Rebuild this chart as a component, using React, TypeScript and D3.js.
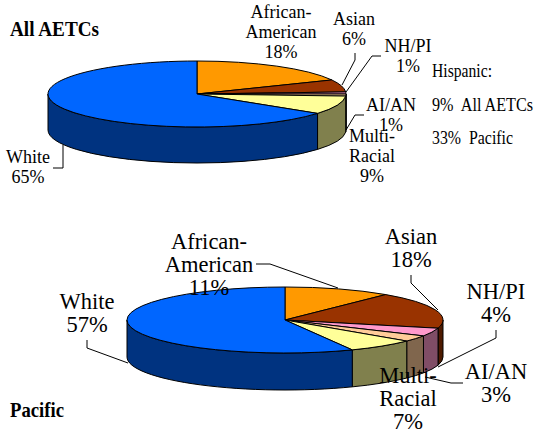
import React from "react";
import * as d3 from "d3";

// Racial/ethnic share of clients, in clockwise order from 12 o'clock.
const categories = ["African-American", "Asian", "NH/PI", "AI/AN", "Multi-Racial", "White"];
const allAetcValues = [18, 6, 1, 1, 9, 65];
const pacificValues = [11, 18, 4, 3, 7, 57];
const topColors = ["#FF9900", "#993300", "#FF99CC", "#FFCC99", "#FFFF99", "#0066FF"];
const sideColors = ["#804D00", "#4D1A00", "#804D66", "#80664D", "#80804D", "#003380"];

type Label = { lines: string[]; x: number; y: number };
type Pie3D = { cx: number; cy: number; rx: number; ry: number; depth: number; values: number[] };

const FONT = "'Liberation Serif', 'Times New Roman', serif";

const wedges = d3.pie<number>().sort(null).value((d) => d);
const unitArc = d3.arc<d3.PieArcDatum<number>>().innerRadius(0).outerRadius(100);

function Pie({ cx, cy, rx, ry, depth, values }: Pie3D) {
  const slices = wedges(values);
  const px = (a: number) => cx + rx * Math.sin(a);
  const py = (a: number) => cy - ry * Math.cos(a);
  return (
    <g stroke="#000" strokeWidth={1} strokeLinejoin="round">
      {slices.map((s, i) => {
        // Only the front half of the rim faces the viewer.
        const a0 = Math.max(s.startAngle, Math.PI / 2);
        const a1 = Math.min(s.endAngle, (3 * Math.PI) / 2);
        if (a1 <= a0) return null;
        const d = [
          `M${px(a0)},${py(a0)}`,
          `A${rx},${ry} 0 0 1 ${px(a1)},${py(a1)}`,
          `L${px(a1)},${py(a1) + depth}`,
          `A${rx},${ry} 0 0 0 ${px(a0)},${py(a0) + depth}`,
          "Z",
        ].join(" ");
        return <path key={categories[i]} d={d} fill={sideColors[i]} />;
      })}
      <g transform={`translate(${cx},${cy}) scale(${rx / 100},${ry / 100})`}>
        {slices.map((s, i) => (
          <path
            key={categories[i]}
            d={unitArc(s) ?? ""}
            fill={topColors[i]}
            vectorEffect="non-scaling-stroke"
          />
        ))}
      </g>
    </g>
  );
}

function Labels({ items, size, leading }: { items: Label[]; size: number; leading: number }) {
  return (
    <g fontFamily={FONT} fontSize={size} fill="#000" textAnchor="middle">
      {items.map((l) => (
        <text key={l.lines.join()} y={l.y}>
          {l.lines.map((t, i) => (
            <tspan key={i} x={l.x} dy={i === 0 ? 0 : leading}>
              {t}
            </tspan>
          ))}
        </text>
      ))}
    </g>
  );
}

const polyline = d3.line();

function Leaders({ paths }: { paths: [number, number][][] }) {
  return (
    <g fill="none" stroke="#000" strokeWidth={1}>
      {paths.map((p, i) => (
        <path key={i} d={polyline(p) ?? ""} />
      ))}
    </g>
  );
}

const allLabels: Label[] = [
  { lines: ["African-", "American", "18%"], x: 281, y: 18 },
  { lines: ["Asian", "6%"], x: 354, y: 25 },
  { lines: ["NH/PI", "1%"], x: 408, y: 52 },
  { lines: ["AI/AN", "1%"], x: 391, y: 111 },
  { lines: ["Multi-", "Racial", "9%"], x: 372, y: 142 },
  { lines: ["White", "65%"], x: 28, y: 163 },
];

const pacificLabels: Label[] = [
  { lines: ["African-", "American", "11%"], x: 209, y: 249 },
  { lines: ["White", "57%"], x: 87, y: 309 },
  { lines: ["Asian", "18%"], x: 411, y: 244 },
  { lines: ["NH/PI", "4%"], x: 496, y: 299 },
  { lines: ["AI/AN", "3%"], x: 496, y: 379 },
  { lines: ["Multi-", "Racial", "7%"], x: 408, y: 383 },
];

const allLeaders: [number, number][][] = [
  [[53, 168], [63, 168], [63, 145]],
  [[355, 53], [355, 60], [342, 85]],
  [[381, 56], [372, 56], [346, 92]],
  [[364, 115], [355, 115], [346, 130]],
];

const pacificLeaders: [number, number][][] = [
  [[256, 264], [270, 264], [338, 288]],
  [[87, 340], [87, 348], [128, 363]],
  [[411, 275], [411, 283], [438, 310]],
  [[496, 330], [496, 338], [438, 367]],
  [[463, 383], [451, 383], [425, 377]],
];

export default function App() {
  return (
    <svg
      width={536}
      height={432}
      viewBox="0 0 536 432"
      style={{ position: "absolute", left: 0, top: 0, background: "#fff" }}
    >
      <Pie cx={197} cy={94} rx={149} ry={33} depth={36} values={allAetcValues} />
      <Pie cx={285} cy={320} rx={158} ry={33} depth={37} values={pacificValues} />

      <Leaders paths={allLeaders} />
      <Leaders paths={pacificLeaders} />

      <Labels items={allLabels} size={18} leading={20.2} />
      <Labels items={pacificLabels} size={22.5} leading={23} />

      <g fontFamily={FONT} fontWeight="bold" fontSize={21} fill="#000">
        <text x={10} y={36} textLength={89} lengthAdjust="spacingAndGlyphs">All AETCs</text>
        <text x={10} y={417} textLength={54} lengthAdjust="spacingAndGlyphs">Pacific</text>
      </g>

      <g fontFamily={FONT} fontSize={18} fill="#000">
        <text x={432} y={77} textLength={60} lengthAdjust="spacingAndGlyphs">Hispanic:</text>
        <text x={432} y={111} xmlSpace="preserve" textLength={101} lengthAdjust="spacingAndGlyphs">9%  All AETCs</text>
        <text x={432} y={144} xmlSpace="preserve" textLength={81} lengthAdjust="spacingAndGlyphs">33%  Pacific</text>
      </g>
    </svg>
  );
}
